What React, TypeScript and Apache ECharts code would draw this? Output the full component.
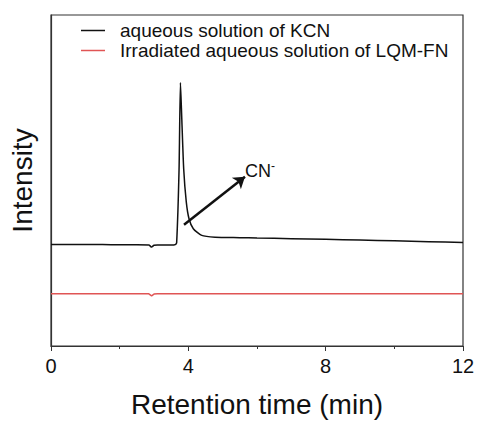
import React, { useEffect, useRef } from "react";
import * as echarts from "echarts";

const times = [0, 0.5, 1, 1.5, 2, 2.5, 2.85, 2.93, 3.0, 3.1, 3.5, 3.62, 3.66, 3.73, 3.77, 3.81, 3.865, 3.94, 4.02, 4.145, 4.39, 4.78, 5.5, 6, 7, 8, 9, 10, 11, 12];
const kcn = [102, 102, 102, 102, 101.8, 101.8, 101.6, 99.5, 101.3, 101.5, 101.5, 102, 104, 178, 265, 228, 178, 145, 128, 118, 111.3, 109.5, 109, 108.6, 108, 107.3, 106.6, 105.8, 105, 104];
const lqm = [52.5, 52.5, 52.5, 52.5, 52.5, 52.5, 52.5, 50.5, 52.2, 52.5, 52.5, 52.5, 52.5, 52.5, 52.5, 52.5, 52.5, 52.5, 52.5, 52.5, 52.5, 52.5, 52.5, 52.5, 52.5, 52.5, 52.5, 52.5, 52.5, 52.5];
const seriesNames = ["aqueous solution of KCN", "Irradiated aqueous solution of LQM-FN"];
const xTicks = [0, 4, 8, 12];
const arrowStart = [3.874, 122];
const arrowEnd = [5.65, 170.3];
const labelPos = [5.65, 176.5];

export default function App() {
  const ref = useRef<HTMLDivElement>(null);
  useEffect(() => {
    const chart = echarts.init(ref.current!, null, { renderer: "svg" });
    const font = "Liberation Sans, Arial, sans-serif";
    chart.setOption({
      animation: false,
      backgroundColor: "#fff",
      grid: { left: 51, right: 15, top: 15, bottom: 75, show: true, borderColor: "#333", borderWidth: 1.2 },
      legend: {
        orient: "vertical",
        left: 81,
        top: 21,
        padding: 0,
        itemWidth: 24,
        itemHeight: 1.5,
        itemGap: 1,
        icon: "rect",
        data: seriesNames,
        textStyle: { fontFamily: font, fontSize: 19, color: "#111", padding: [0, 0, 0, 10] },
      },
      xAxis: {
        type: "value",
        min: 0,
        max: 12,
        interval: 4,
        name: "Retention time (min)",
        nameLocation: "middle",
        nameGap: 44,
        nameTextStyle: { fontFamily: font, fontSize: 28, color: "#111" },
        axisLine: { show: true, lineStyle: { color: "#333", width: 1.2 } },
        axisTick: { show: true, length: 5, lineStyle: { color: "#333" } },
        minorTick: { show: true, splitNumber: 2, length: 3, lineStyle: { color: "#333" } },
        splitLine: { show: false },
        axisLabel: {
          fontFamily: font,
          fontSize: 20,
          color: "#111",
          margin: 10,
          formatter: (v: number) => (xTicks.includes(v) ? String(v) : ""),
        },
      },
      yAxis: {
        type: "value",
        min: 0,
        max: 333,
        name: "Intensity",
        nameLocation: "middle",
        nameGap: 15,
        nameTextStyle: { fontFamily: font, fontSize: 28, color: "#111" },
        axisLine: { show: true, lineStyle: { color: "#333", width: 1.2 } },
        axisTick: { show: false },
        axisLabel: { show: false },
        splitLine: { show: false },
      },
      series: [
        {
          name: seriesNames[0],
          type: "line",
          data: times.map((t, i) => [t, kcn[i]]),
          showSymbol: false,
          symbol: "none",
          smooth: 0.2,
          lineStyle: { color: "#111", width: 1.5 },
          itemStyle: { color: "#111" },
          markLine: {
            silent: true,
            symbol: ["none", "arrow"],
            symbolSize: 11,
            label: { show: false },
            lineStyle: { color: "#111", width: 2.5, type: "solid" },
            data: [[{ coord: arrowStart }, { coord: arrowEnd }]],
          },
          markPoint: {
            silent: true,
            symbol: "circle",
            symbolSize: 0,
            data: [{ coord: labelPos }],
            label: {
              show: true,
              position: "right",
              distance: 0,
              formatter: "{a|CN}{b|-}",
              rich: {
                a: { fontFamily: font, fontSize: 18, color: "#111" },
                b: { fontFamily: font, fontSize: 12, color: "#111", verticalAlign: "top", padding: [0, 0, 9, 0] },
              },
            },
          },
        },
        {
          name: seriesNames[1],
          type: "line",
          data: times.map((t, i) => [t, lqm[i]]),
          showSymbol: false,
          symbol: "none",
          lineStyle: { color: "#e05555", width: 1.5 },
          itemStyle: { color: "#e05555" },
        },
      ],
    });
    return () => chart.dispose();
  }, []);
  return <div ref={ref} style={{ width: 478, height: 423, position: "fixed", left: 0, top: 0 }} />;
}
